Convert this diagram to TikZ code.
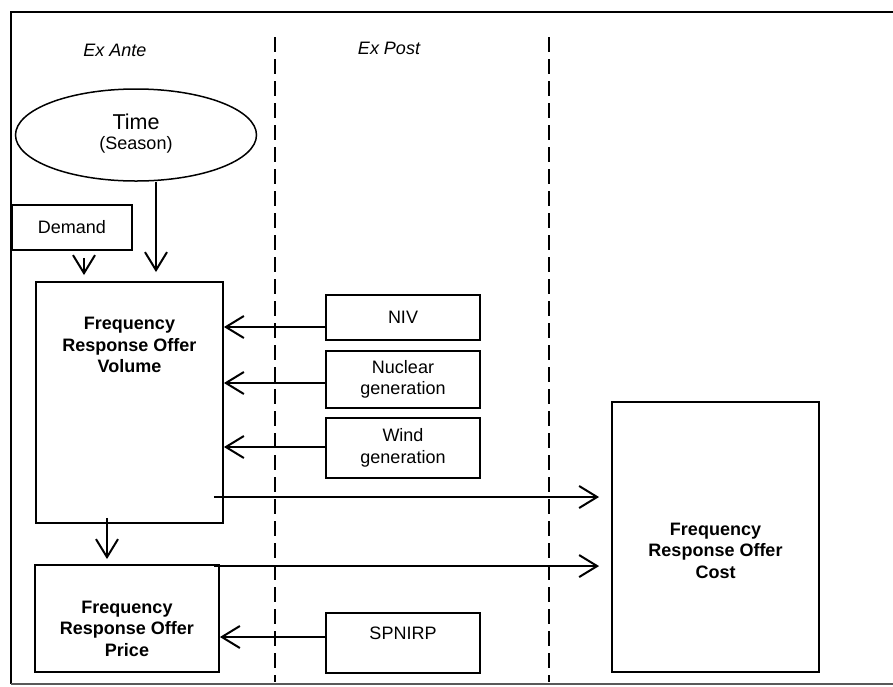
\documentclass[tikz,border=0pt]{standalone}
\usepackage{fontspec}
\setmainfont{Liberation Sans}
\usetikzlibrary{arrows.meta,shapes.geometric,calc}
\newcommand\myfs{\fontsize{18}{21.5}\selectfont}
\begin{document}
\begin{tikzpicture}[x=1pt,y=-1pt,
  box/.style={draw,line width=1.9pt,inner sep=0pt,align=center,font=\myfs},
  btext/.style={align=center,font=\myfs\bfseries,inner sep=0pt},
  arr/.style={line width=2pt,-{Straight Barb[length=18pt,width=22pt,line width=2pt]}},
  sepline/.style={line width=1.4pt,dash pattern=on 15pt off 7pt},
  head/.style={font=\myfs\itshape,inner sep=0pt}]
\useasboundingbox (0,0) rectangle (893,686);
% frame
\draw[line width=2.2pt] (900,12) -- (11,12) -- (11,684);
\draw[line width=1.4pt,black!65] (11,684) -- (900,684);
% separators
\coordinate (d1t) at (275,37); \coordinate (d1b) at (275,682);
\coordinate (d2t) at (549,37); \coordinate (d2b) at (549,682);
\draw[sepline] (d1t) -- (d1b);
\draw[sepline] (d2t) -- (d2b);
% headings
\node[head] (exante) at (115,50) {Ex Ante};
\node[head] (expost) at (389,48) {Ex Post};
% ellipse
\node[draw,ellipse,line width=1.5pt,inner sep=0pt,minimum width=241pt,minimum height=92pt]
  (time) at (136,135) {};
\node[font=\fontsize{21.5}{24}\selectfont,inner sep=0pt] (timet) at (136,122) {Time};
\node[font=\myfs,inner sep=0pt] (seasont) at (136,145) {(Season)};
% boxes
\node[box,minimum width=120pt,minimum height=45pt] (demand) at (72,227.5) {Demand};
\node[box,minimum width=187pt,minimum height=241pt] (vol) at (129.5,402.5) {};
\node[btext] (volt) at (129.5,345) {Frequency\\Response Offer\\Volume};
\node[box,minimum width=184pt,minimum height=107pt] (price) at (127,618.5) {};
\node[btext] (pricet) at (127,628.5) {Frequency\\Response Offer\\Price};
\node[box,minimum width=154pt,minimum height=45pt] (niv) at (403,317.5) {NIV};
\node[box,minimum width=154pt,minimum height=57pt] (nuc) at (403,379.5) {Nuclear\\generation};
\node[box,minimum width=154pt,minimum height=60pt] (wind) at (403,448) {Wind\\generation};
\node[box,minimum width=154pt,minimum height=60pt] (spnirp) at (403,643) {};
\node[font=\myfs,inner sep=0pt] (spnirpt) at (403,633) {SPNIRP};
\node[box,minimum width=207pt,minimum height=270pt] (cost) at (715.5,537) {};
\node[btext] (costt) at (715.5,550.5) {Frequency\\Response Offer\\Cost};
% connectors
\draw[arr] ($(time.south)+(20,0)$) -- ($(vol.north)+(26.5,-9)$);
\draw[arr] ($(demand.south)+(12,7)$) -- ($(vol.north)+(-45.5,-6)$);
\draw[arr] ($(vol.south)+(-22.5,-6)$) -- ($(price.north)+(-20,-5)$);
\draw[arr] ($(niv.west)+(0,9.5)$) coordinate (n1) -- (n1 -| vol.east);
\draw[arr] ($(nuc.west)+(0,3.5)$) coordinate (n2) -- (n2 -| vol.east);
\draw[arr] ($(wind.west)+(0,-1)$) coordinate (n3) -- (n3 -| vol.east);
\draw[arr] ($(spnirp.west)+(0,-6)$) coordinate (n4) -- (n4 -| price.east);
\coordinate (c1) at ($(cost.west)+(-12,0)$);
\draw[arr] ($(vol.east)+(-10,94.5)$) coordinate (s1) -- (s1 -| c1);
\draw[arr] ($(price.north east)+(-6,2)$) coordinate (s2) -- (s2 -| c1);
\end{tikzpicture}
\end{document}
